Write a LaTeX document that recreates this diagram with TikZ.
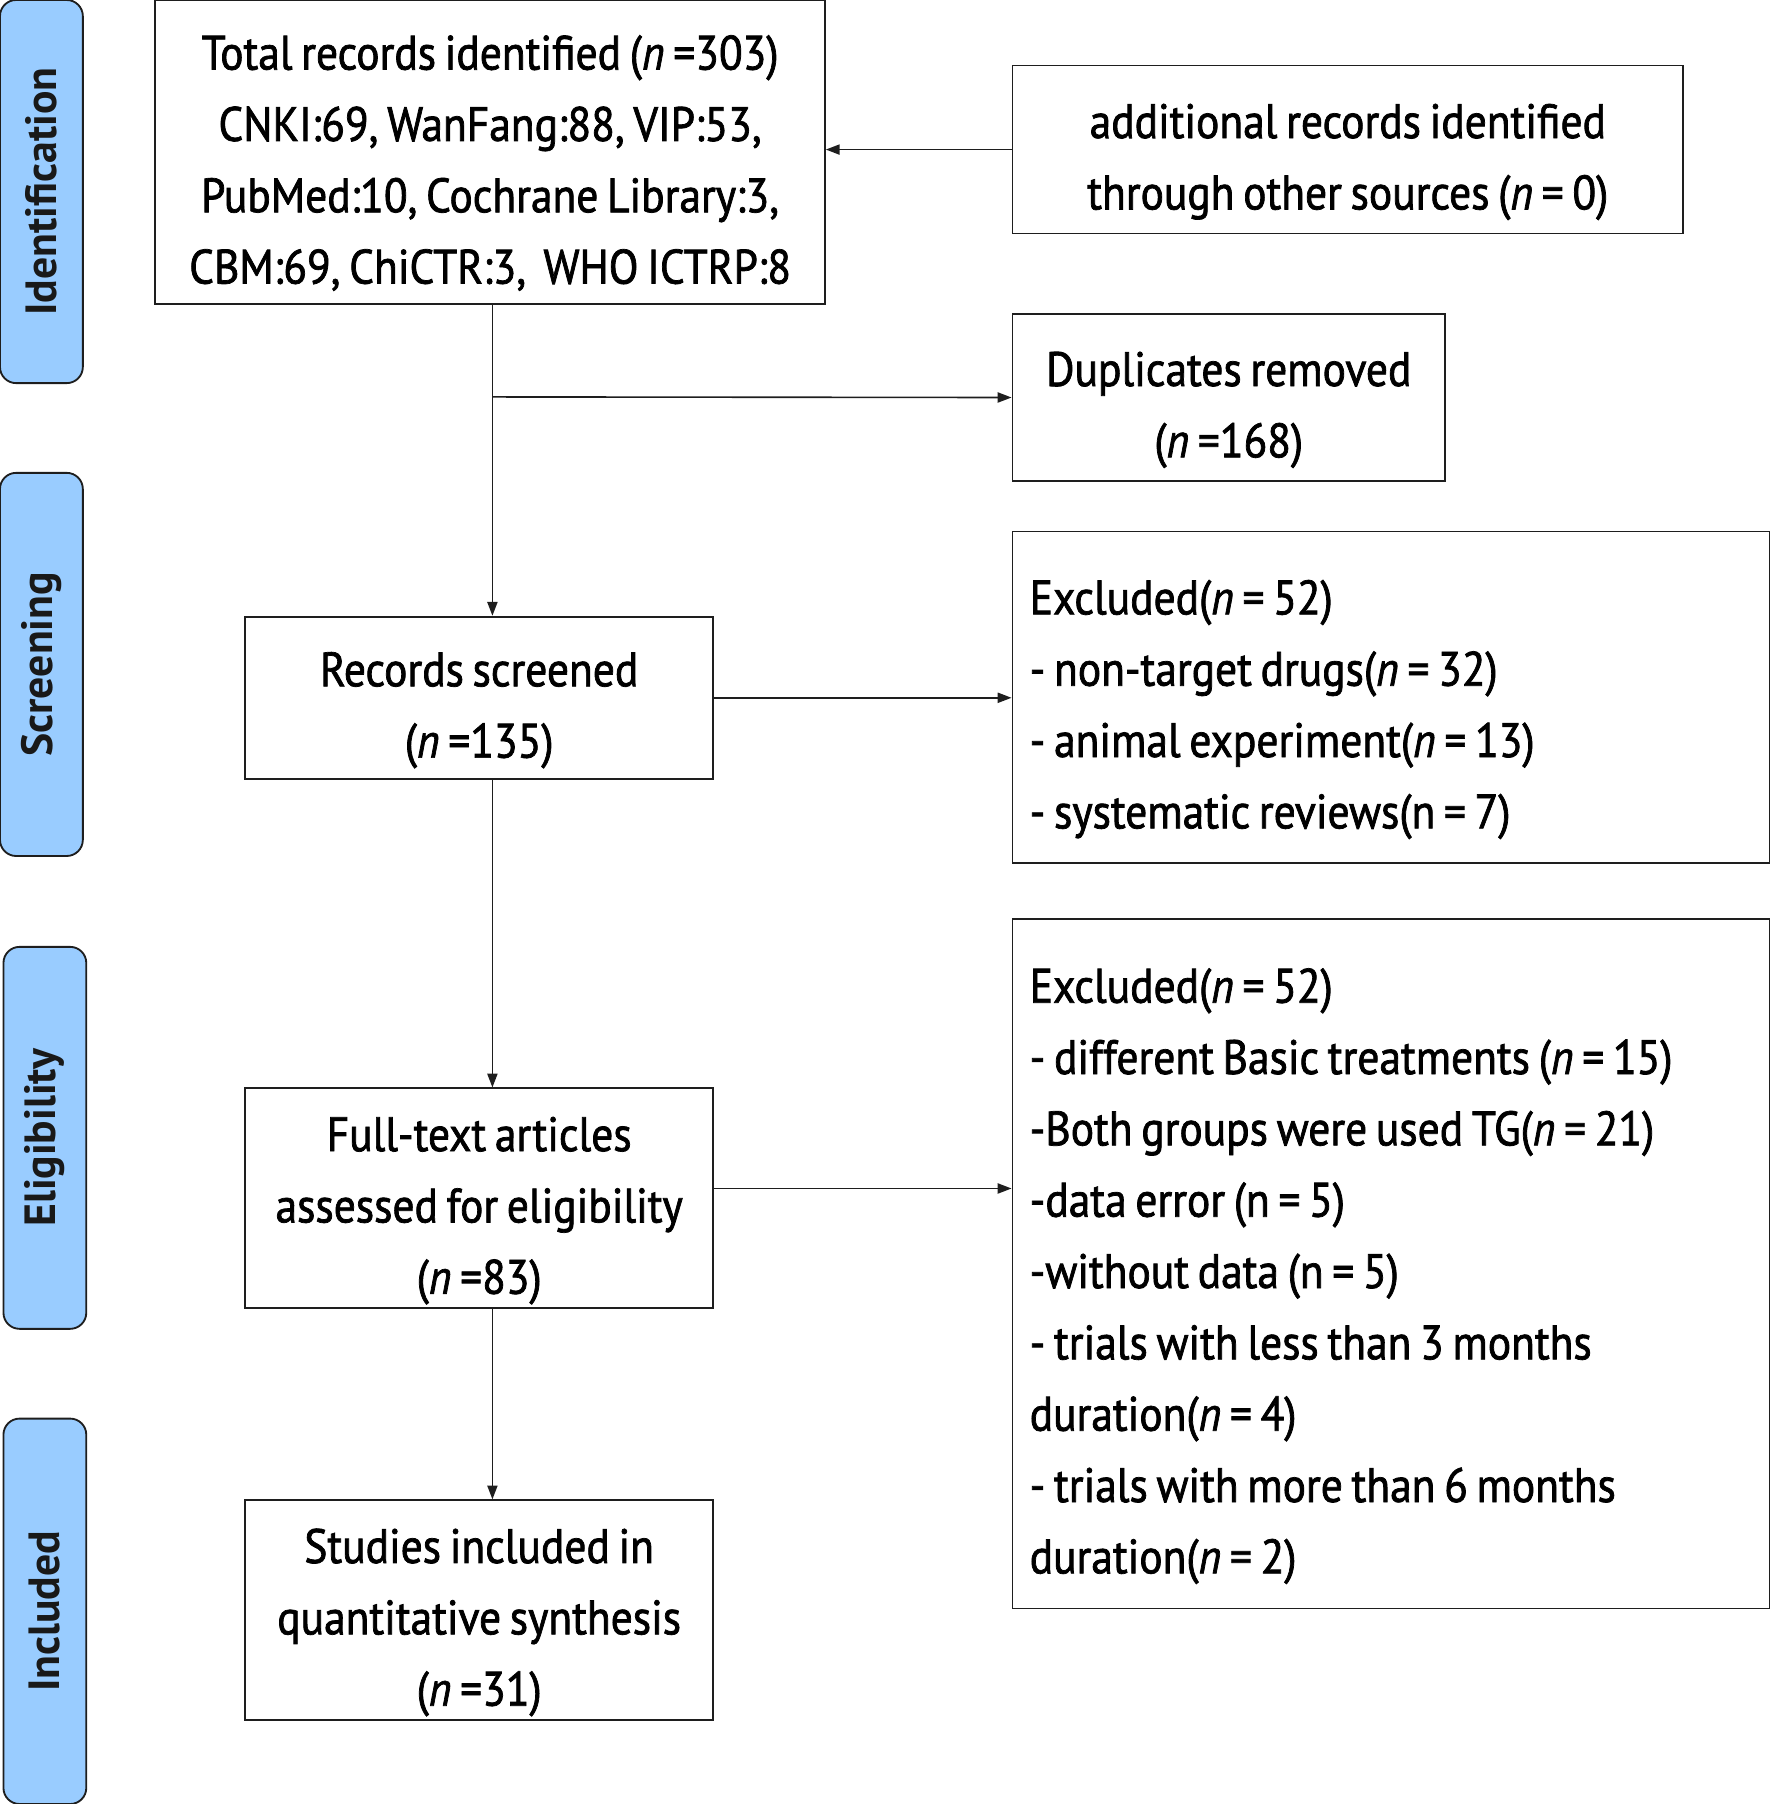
\documentclass[tikz,border=0pt]{standalone}
\usepackage{fontspec}
\setmainfont{PT Sans}[FakeStretch=0.9, FakeBold=1.5, WordSpace=0.75]
\newfontfamily\lblfont{PT Sans Bold}
\usetikzlibrary{arrows.meta}
\definecolor{lblue}{RGB}{153,204,255}
\definecolor{edge}{RGB}{30,30,30}
\newcommand\fst{\rule{0pt}{27pt}}
\newcommand\fsx{\spaceskip=0pt\xspaceskip=0pt\relax\rule{0pt}{27pt}}
\newcommand\lst{\rule[-6pt]{0pt}{6pt}}
\tikzset{
  box/.style={draw=edge, line width=0.8pt, inner sep=0pt, align=center,
    font=\fontsize{21}{31}\selectfont},
  exbox/.style={draw=edge, line width=0.8pt, inner xsep=7.5pt, inner ysep=0pt,
    align=left, text width=314pt, font=\fontsize{21}{31}\selectfont},
  phase/.style={draw=edge, line width=0.8pt, fill=lblue, rounded corners=7pt,
    rotate=90, minimum height=36pt, inner sep=0pt,
    font=\lblfont\fontsize{19}{22}\selectfont, text=black!90},
  arr/.style={draw=edge, line width=0.7pt, -{Triangle[length=6pt,width=4.4pt]}}
}
\begin{document}
\begin{tikzpicture}[x=0.5pt,y=-0.5pt]
\useasboundingbox (0,0) rectangle (1540,1568);
% phase labels
\node[phase, minimum width=166.5pt] (ident) at (36,166.5) {Identification};
\node[phase, minimum width=166.5pt] (scrn) at (36,577.5) {Screening};
\node[phase, minimum width=166pt] (elig) at (39,989) {Eligibility};
\node[phase, minimum width=167.5pt] (incl) at (39,1400.5) {Included};
% boxes
\node[box, minimum width=291pt, minimum height=132pt] (total) at (426,132.5)
  {\fst Total records identified (\textit{n} =303)\\
   CNKI:69, WanFang:88, VIP:53,\\
   PubMed:10, Cochrane Library:3,\\
   CBM:69, ChiCTR:3,\ \ WHO ICTRP:8\lst};
\node[box, minimum width=291.5pt, minimum height=73pt] (add) at (1171.5,130)
  {\fst additional records identified\\ through other sources (\textit{n} = 0)\lst};
\node[box, minimum width=188pt, minimum height=72.5pt] (dup) at (1068,345.5)
  {\fst Duplicates removed\\ (\textit{n} =168)\lst};
\node[box, minimum width=203.5pt, minimum height=70.5pt] (scr) at (416.5,606.5)
  {\fst Records screened\\ (\textit{n} =135)\lst};
\node[exbox, minimum height=144pt] (ex1) at (1209,606)
  {\fsx Excluded(\textit{n} = 52)\\
   - non-target drugs(\textit{n} = 32)\\
   - animal experiment(\textit{n} = 13)\\
   - systematic reviews(n = 7)\lst};
\node[box, minimum width=203.5pt, minimum height=95.5pt] (full) at (416.5,1041.5)
  {\fst Full-text articles\\ assessed for eligibility\\ (\textit{n} =83)\lst};
\node[exbox, minimum height=299.5pt] (ex2) at (1209,1098.5)
  {\fsx Excluded(\textit{n} = 52)\\
   - different Basic treatments (\textit{n} = 15)\\
   -Both groups were used TG(\textit{n} = 21)\\
   -data error (n = 5)\\
   -without data (n = 5)\\
   - trials with less than 3 months\\
   duration(\textit{n} = 4)\\
   - trials with more than 6 months\\
   duration(\textit{n} = 2)\lst};
\node[box, minimum width=203.5pt, minimum height=95.5pt] (stud) at (416.5,1399.5)
  {\fst Studies included in\\ quantitative synthesis\\ (\textit{n} =31)\lst};
% connectors
\coordinate (sp) at (428,0);
\coordinate (br) at (428,345);
\draw[arr] (total.south -| sp) -- (scr.north -| sp);
\draw[arr] (br) -- (dup.west);
\draw[arr] (add.west) -- (add.west -| total.east);
\draw[arr] (scr.east) -- (scr.east -| ex1.west);
\draw[arr] (scr.south -| sp) -- (full.north -| sp);
\draw[arr] ([yshift=4.25pt]full.east) -- ([yshift=4.25pt]full.east -| ex2.west);
\draw[arr] (full.south -| sp) -- (stud.north -| sp);
\end{tikzpicture}
\end{document}
